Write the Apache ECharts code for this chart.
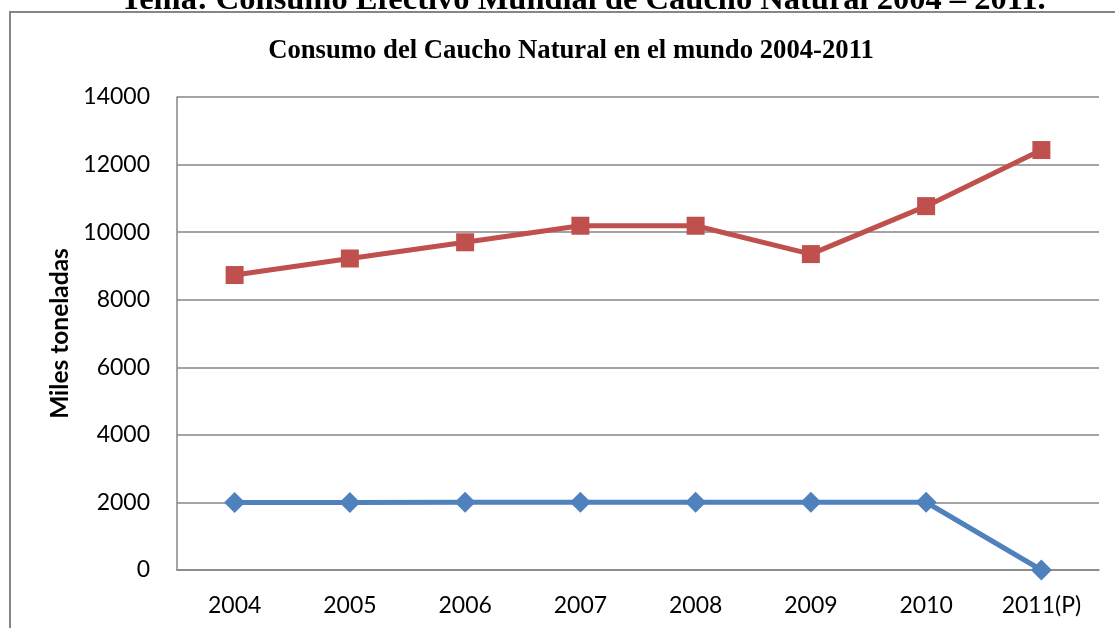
<!DOCTYPE html>
<html>
<head>
<meta charset="utf-8">
<script src="https://cdn.jsdelivr.net/npm/echarts@6/dist/echarts.min.js"></script>
<style>
html,body{margin:0;padding:0;background:#fff;}
#c{width:1115px;height:628px;}
</style>
</head>
<body>
<div id="c"></div>
<script>
var categories = ['2004','2005','2006','2007','2008','2009','2010','2011(P)'];
var serieRoja = [8730, 9220, 9700, 10190, 10190, 9350, 10770, 12430];
var serieAzul = [2000, 1995, 2005, 2005, 2005, 2005, 2005, 0];
var yTicks = [0, 2000, 4000, 6000, 8000, 10000, 12000, 14000];
var pageTitle = 'Tema: Consumo Efectivo Mundial de Caucho Natural 2004 – 2011.';
var chartTitle = 'Consumo del Caucho Natural en el mundo 2004-2011';
var yName = 'Miles toneladas';

var chart = echarts.init(document.getElementById('c'), null, {renderer:'canvas'});
chart.setOption({
  animation: false,
  backgroundColor: '#ffffff',
  graphic: [
    {type:'rect', shape:{x:10, y:12, width:1300, height:800}, style:{fill:'none', stroke:'#868686', lineWidth:2}, silent:true},
    {type:'text', x:583, y:-16, style:{text:pageTitle, textAlign:'center', textVerticalAlign:'top', font:'bold 32.5px "Liberation Serif", serif', fill:'#000'}, silent:true}
  ],
  title: {
    text: chartTitle,
    left: 566, textAlign:'center',
    top: 33,
    textStyle:{fontFamily:'"Liberation Serif", serif', fontWeight:'bold', fontSize:26.7, color:'#000'}
  },
  grid: {left:177, right:16, top:97, bottom:58, containLabel:false},
  xAxis: {
    type:'category',
    data: categories,
    boundaryGap: true,
    axisLine:{lineStyle:{color:'#868686', width:1.5}},
    axisTick:{show:false},
    axisLabel:{fontFamily:'Lato, sans-serif', fontSize:23, color:'#000', margin:24}
  },
  yAxis: {
    type:'value',
    min: yTicks[0], max: yTicks[yTicks.length-1], interval: 2000,
    name: yName,
    nameLocation:'middle',
    nameRotate: 90,
    nameGap: 102,
    nameTextStyle:{fontFamily:'Lato, sans-serif', fontWeight:'bold', fontSize:24.5, color:'#000'},
    axisLine:{show:true, lineStyle:{color:'#868686', width:1.5}},
    axisTick:{show:false},
    splitLine:{lineStyle:{color:'#868686', width:1.5}},
    axisLabel:{fontFamily:'Lato, sans-serif', fontSize:23, color:'#000', margin:27,
      formatter: function(v){ return String(v); }}
  },
  series: [
    {
      type:'line', data: serieAzul,
      symbol:'diamond', symbolSize:21,
      lineStyle:{color:'#4F81BD', width:5},
      itemStyle:{color:'#4F81BD'}
    },
    {
      type:'line', data: serieRoja,
      symbol:'rect', symbolSize:18,
      lineStyle:{color:'#C0504D', width:5},
      itemStyle:{color:'#C0504D'}
    }
  ]
});
</script>
</body>
</html>
